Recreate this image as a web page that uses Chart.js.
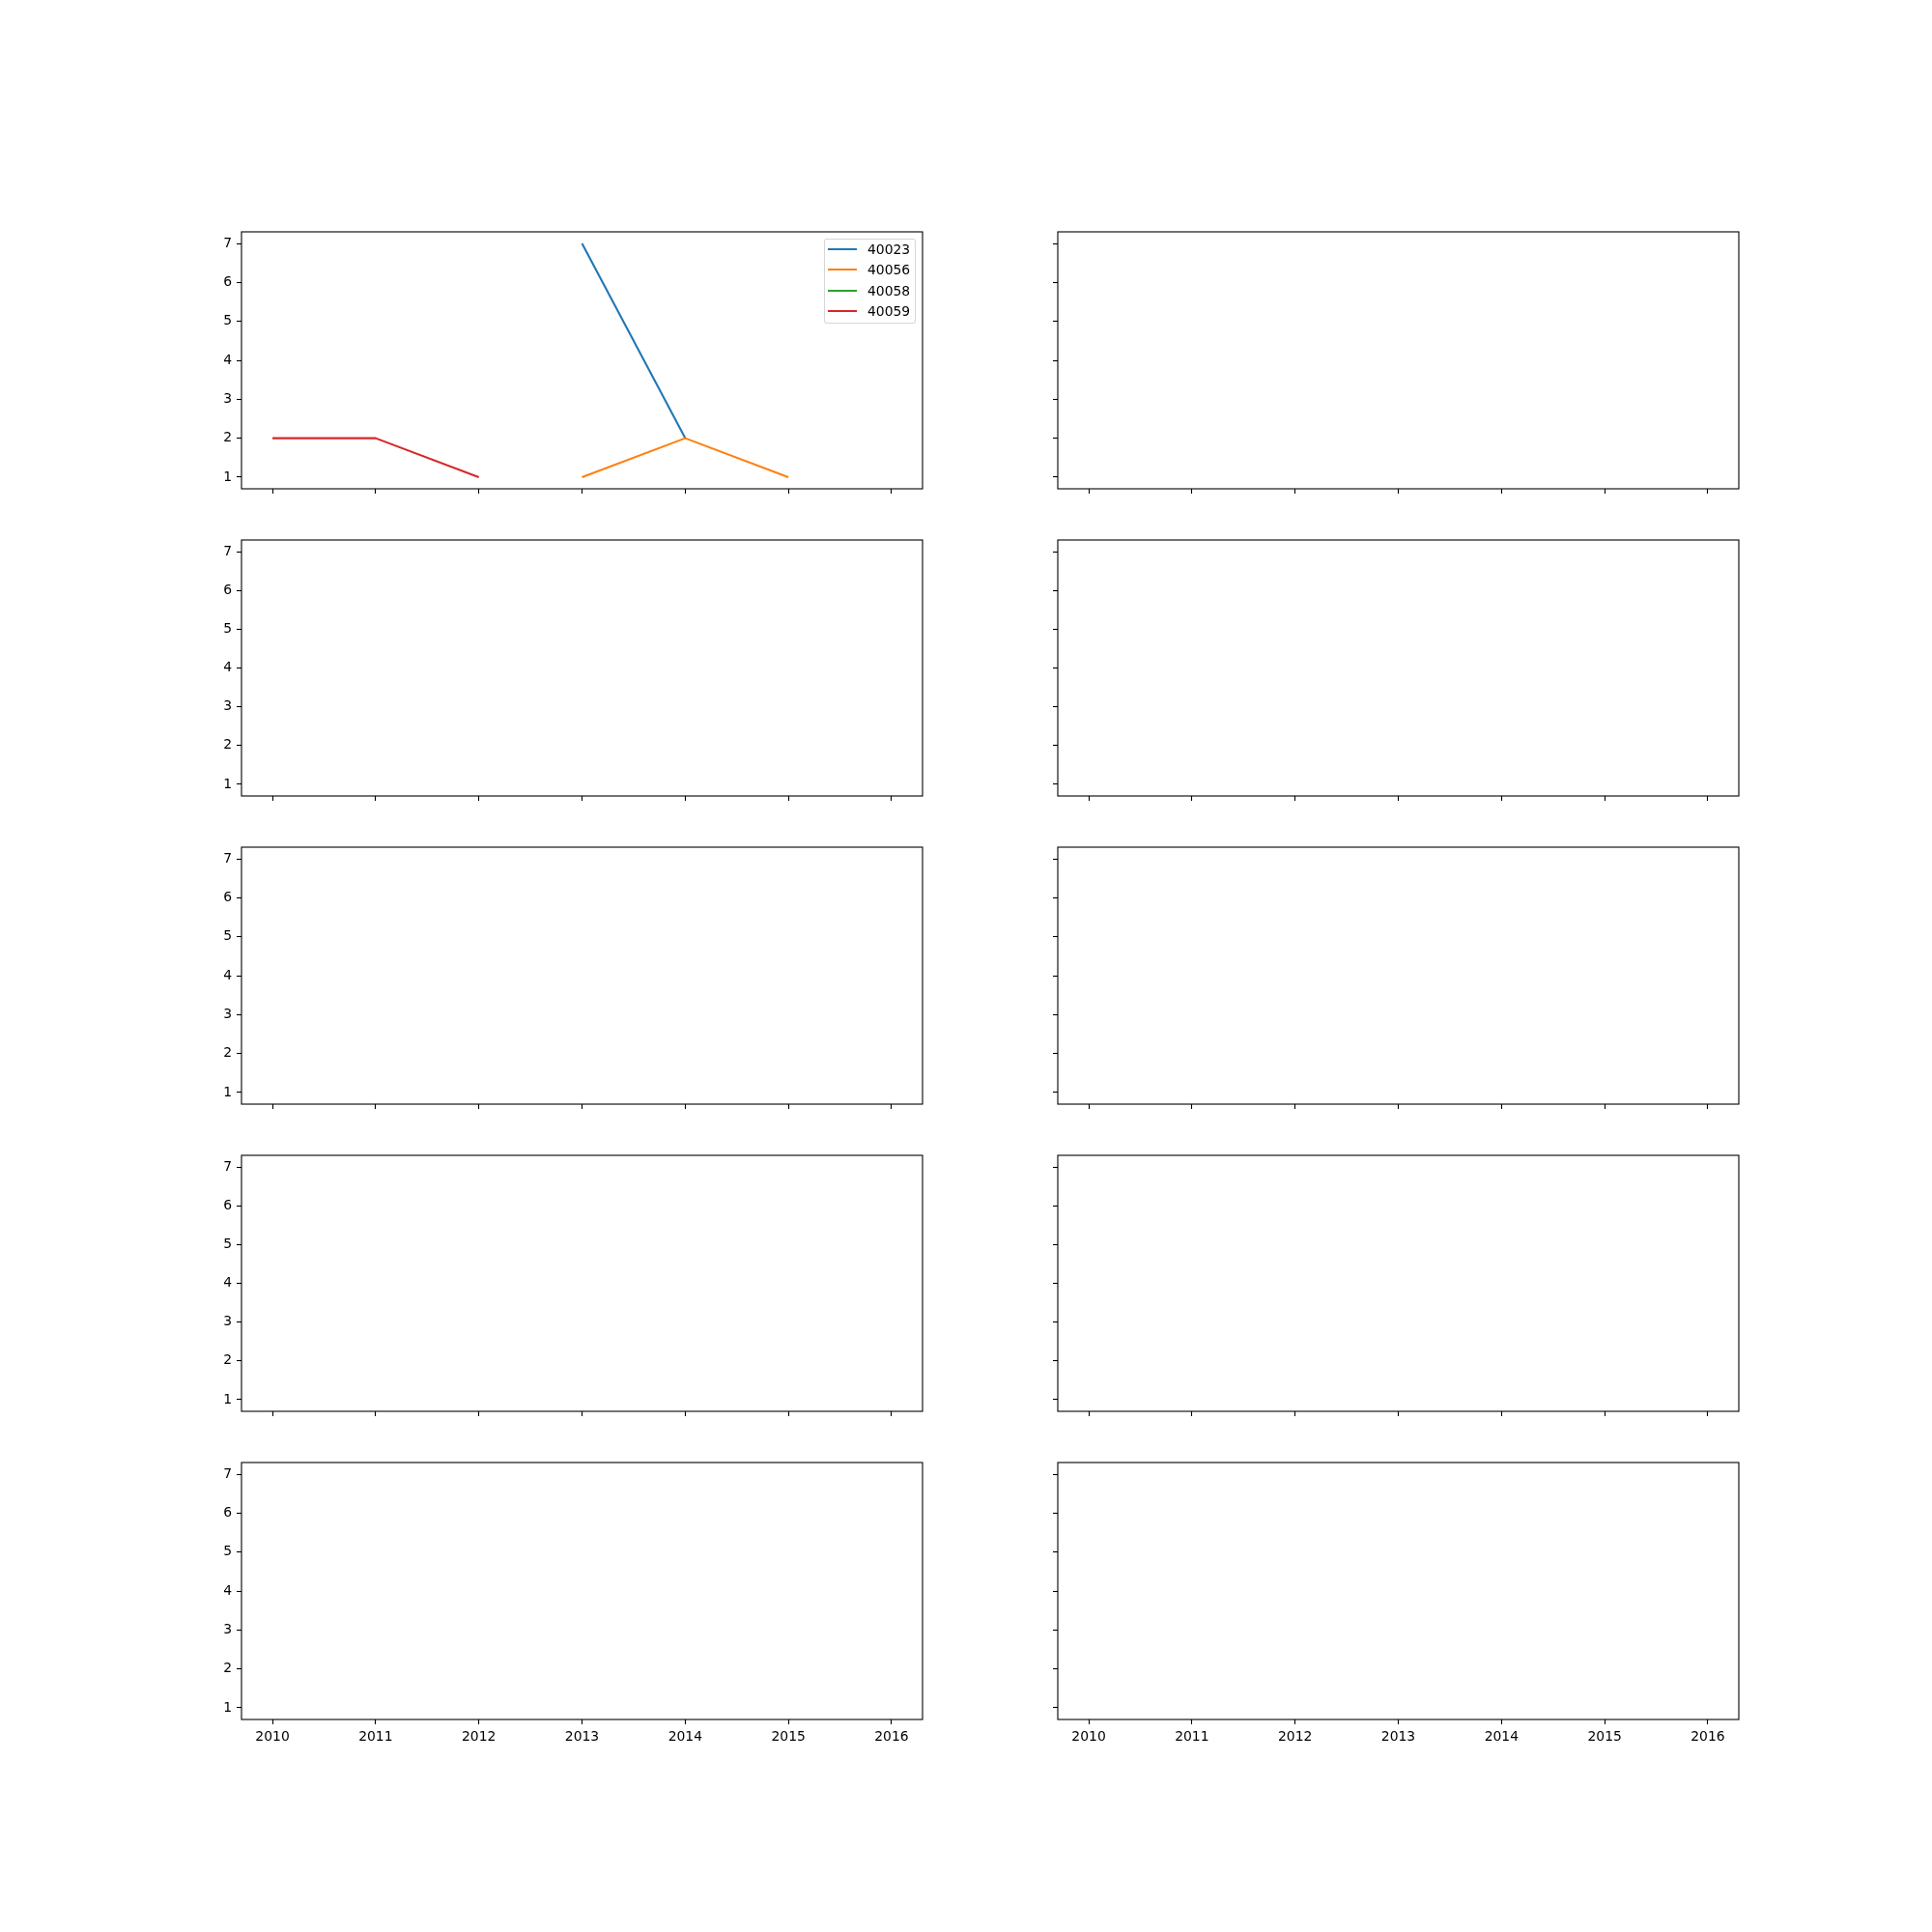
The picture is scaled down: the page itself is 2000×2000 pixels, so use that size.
<!DOCTYPE html>
<html>
<head>
<meta charset="utf-8">
<script src="https://cdn.jsdelivr.net/npm/chart.js@4/dist/chart.umd.min.js"></script>
<style>
  html, body { margin: 0; padding: 0; background: #fff; }
  body { width: 2000px; height: 2000px; position: relative; overflow: hidden; }
  .panel { position: absolute; }
  .legend { position: absolute; box-sizing: border-box; background: rgba(255,255,255,0.8);
    border: 1px solid rgba(204,204,204,0.8); border-radius: 3px; font-family: 'DejaVu Sans'; font-size: 13.9px; color: #000; }
  .legend .row { position: absolute; left: 0; height: 16px; white-space: nowrap; }
  .legend .sw { position: absolute; left: 3px; width: 30px; height: 2px; top: 7px; }
  .legend .tx { position: absolute; left: 44px; top: 0; line-height: 16px; }
</style>
</head>
<body>
<script>
// ---- data ----
const years = [2010, 2011, 2012, 2013, 2014, 2015, 2016];
const seriesNames = ['40023', '40056', '40058', '40059'];
const s40023 = [null, null, null, 7, 2, null, null];
const s40056 = [null, null, null, 1, 2, 1, null];
const s40058 = [null, null, null, null, null, null, null];
const s40059 = [2, 2, 1, null, null, null, null];
const seriesColors = ['#1f77b4', '#ff7f0e', '#2ca02c', '#d62728'];
const xTicks = [2010, 2011, 2012, 2013, 2014, 2015, 2016];
const yTicks = [1, 2, 3, 4, 5, 6, 7];
const xRange = [2009.7, 2016.3];
const yRange = [0.7, 7.3];

// ---- layout (matplotlib-like 5x2 grid) ----
Chart.defaults.font.family = 'DejaVu Sans';
Chart.defaults.font.size = 13.9;
Chart.defaults.color = '#000';

const FIG = 2000, nRows = 5, nCols = 2;
const fl = 0.125, fr = 0.9, fb = 0.11, ft = 0.88, wsp = 0.2, hsp = 0.2;
const totW = (fr - fl) * FIG, totH = (ft - fb) * FIG;
const axW = totW / (nCols + wsp * (nCols - 1));
const axH = totH / (nRows + hsp * (nRows - 1));
const padL = 60, padR = 12, padT = 15, padB = 40;

const seriesData = [s40023, s40056, s40058, s40059];

const framePlugin = {
  id: 'frame',
  afterDraw(chart) {
    const a = chart.chartArea, ctx = chart.ctx;
    ctx.save();
    ctx.strokeStyle = '#000';
    ctx.lineWidth = 1.1;
    ctx.strokeRect(a.left, a.top, a.right - a.left, a.bottom - a.top);
    ctx.restore();
  }
};

const charts = [];
for (let r = 0; r < nRows; r++) {
  for (let c = 0; c < nCols; c++) {
    const L = Math.round(fl * FIG + c * axW * (1 + wsp));
    const R = Math.round(fl * FIG + c * axW * (1 + wsp) + axW);
    const T = Math.round((1 - ft) * FIG + r * axH * (1 + hsp));
    const B = Math.round((1 - ft) * FIG + r * axH * (1 + hsp) + axH);
    const div = document.createElement('div');
    div.className = 'panel';
    div.style.left = (L - padL) + 'px';
    div.style.top = (T - padT) + 'px';
    const cw = R - L + padL + padR, ch = B - T + padT + padB;
    div.style.width = cw + 'px';
    div.style.height = ch + 'px';
    const cv = document.createElement('canvas');
    cv.width = cw; cv.height = ch;
    cv.style.width = cw + 'px'; cv.style.height = ch + 'px';
    div.appendChild(cv);
    document.body.appendChild(div);

    const first = (r === 0 && c === 0);
    const datasets = first ? seriesNames.map((n, i) => ({
      label: n,
      data: years.map((x, k) => ({ x: x, y: seriesData[i][k] })),
      borderColor: seriesColors[i],
      backgroundColor: seriesColors[i],
      borderWidth: 2.08,
      pointRadius: 0,
      borderJoinStyle: 'round',
      borderCapStyle: 'butt',
      spanGaps: false,
      order: seriesNames.length - i
    })) : [];

    const showX = (r === nRows - 1), showY = (c === 0);
    const chart = new Chart(cv, {
      type: 'line',
      data: { datasets: datasets },
      options: {
        responsive: false,
        animation: false,
        devicePixelRatio: 1,
        layout: { padding: { left: 0, right: padR, top: padT, bottom: 0 } },
        plugins: { legend: { display: false }, tooltip: { enabled: false } },
        events: [],
        scales: {
          x: {
            type: 'linear', min: xRange[0], max: xRange[1],
            afterBuildTicks(s) { s.ticks = xTicks.map(v => ({ value: v })); },
            afterFit(s) { s.height = padB; },
            grid: { display: true, drawOnChartArea: false, drawTicks: true, tickLength: 5, tickColor: '#000', tickWidth: 1.1, color: '#000' },
            border: { display: false },
            ticks: { display: showX, padding: 5, maxRotation: 0, autoSkip: false, callback: v => String(v), font: { size: 13.9 } }
          },
          y: {
            type: 'linear', min: yRange[0], max: yRange[1],
            afterBuildTicks(s) { s.ticks = yTicks.map(v => ({ value: v })); },
            afterFit(s) { s.width = padL; },
            grid: { display: true, drawOnChartArea: false, drawTicks: true, tickLength: 5, tickColor: '#000', tickWidth: 1.1, color: '#000' },
            border: { display: false },
            ticks: { display: showY, padding: 5, autoSkip: false, callback: v => String(v), font: { size: 13.9 } }
          }
        }
      },
      plugins: [framePlugin]
    });
    charts.push({ chart, L, R, T, B });
  }
}

// ---- legend (upper right of first axes), built from the chart's datasets ----
(function () {
  const p = charts[0];
  const ds = p.chart.data.datasets;
  const lg = document.createElement('div');
  lg.className = 'legend';
  const w = 95, h = 88;
  lg.style.left = (p.R - 7 - w) + 'px';
  lg.style.top = (p.T + 7) + 'px';
  lg.style.width = w + 'px';
  lg.style.height = h + 'px';
  ds.forEach((d, i) => {
    const row = document.createElement('div');
    row.className = 'row';
    row.style.top = (2 + i * 21.3) + 'px';
    const sw = document.createElement('div');
    sw.className = 'sw';
    sw.style.background = d.borderColor;
    const tx = document.createElement('div');
    tx.className = 'tx';
    tx.textContent = d.label;
    row.appendChild(sw); row.appendChild(tx);
    lg.appendChild(row);
  });
  document.body.appendChild(lg);
})();
</script>
</body>
</html>
